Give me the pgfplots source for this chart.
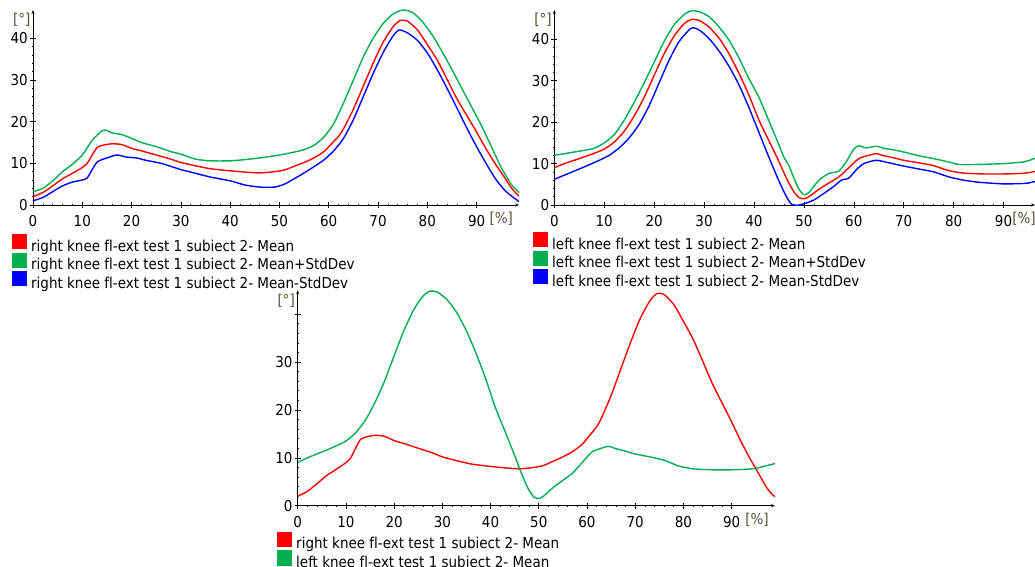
\documentclass[border=0pt]{standalone}
\usepackage{fontspec}
\setmainfont[Ligatures=NoCommon]{DejaVu Sans Condensed}
\usepackage{pgfplots}
\usepackage{pgfplotstable}
\pgfplotsset{compat=1.18}
\usetikzlibrary{arrows.meta}
\definecolor{cred}{RGB}{255,0,0}
\definecolor{cgreen}{RGB}{0,176,80}
\definecolor{cblue}{RGB}{0,0,255}
\definecolor{labcol}{RGB}{90,75,55}
\newcommand\chfont{\fontsize{15}{17}\selectfont}

% right knee
\pgfplotstableread{
x y
0 2.0
2 3.0
4 4.6
6 6.3
8 7.6
10 9.0
11 10.0
12 12.0
13 13.8
14 14.3
16 14.7
18 14.5
20 13.6
22 13.0
25 12.0
28 11.0
30 10.2
33 9.4
36 8.7
40 8.2
43 7.9
46 7.7
49 8.0
51 8.4
53 9.3
55 10.2
57 11.3
59 12.8
60 14.0
62 16.5
63 18.3
65 23.0
67 28.5
69 34.0
71 39.0
73 42.7
74.5 44.3
76 44.1
78 42.0
80 38.5
82 34.8
84 30.2
86 25.5
88 21.5
90 17.5
92 13.3
94 9.5
95 7.8
96 6.0
97 4.2
98 2.8
98.6 2.2
99 1.9
}\rmean
\pgfplotstableread{
x y
0 3.2
2 4.0
4 5.8
6 8.0
8 9.8
10 12.0
12 15.5
14 17.8
15 17.9
16 17.3
18 16.9
20 16.0
22 15.0
25 14.0
28 12.8
30 12.2
33 11.0
36 10.6
40 10.6
43 10.9
46 11.3
50 12.0
53 12.7
55 13.3
57 14.3
59 16.3
61 19.5
63 24.5
65 30.0
67 35.5
69 40.0
71 43.5
73 45.8
75 46.8
77 46.2
79 44.0
81 40.8
83 36.8
85 32.5
87 28.0
89 23.5
91 19.0
93 14.0
95 9.0
97 5.0
98.6 3.0
99 2.8
}\rplus
\pgfplotstableread{
x y
0 1.0
2 1.8
4 3.2
6 4.6
8 5.5
10 6.0
11 6.5
12 8.5
13 10.3
14 10.9
15 11.3
17 12.0
19 11.5
21 11.3
23 10.7
26 10.0
30 8.5
33 7.6
36 6.7
40 5.8
43 4.8
46 4.3
49 4.3
51 5.0
53 6.3
55 7.7
57 9.2
59 10.8
61 13.0
63 16.0
65 20.5
67 26.0
69 31.5
71 36.5
73 40.5
74.3 42.0
76 41.3
78 39.5
80 36.5
82 32.5
84 28.0
86 23.3
88 18.5
90 14.0
92 9.8
94 6.0
96 3.2
98.6 0.8
99 0.6
}\rminus
% left knee
\pgfplotstableread{
x y
0 9.0
2 10.0
5 11.2
8 12.5
10 13.5
12 15.2
14 17.8
16 21.5
18 26.0
20 31.3
22 36.5
24 40.8
26 43.8
27.5 44.8
29 44.6
31 43.0
33 40.3
35 36.5
37 31.8
39 26.5
41 20.5
43 15.5
45 10.5
46 7.8
47 5.3
48 3.2
49 1.8
50 1.5
51 2.0
53 3.8
55 5.3
57 6.8
59 9.0
61 11.2
63 12.0
64.5 12.4
66 11.9
68 11.4
70 10.8
73 10.2
76 9.5
79 8.3
82 7.7
86 7.5
90 7.5
93 7.6
95 7.8
97 8.3
99 8.8
}\lmean
\pgfplotstableread{
x y
0 12.0
3 12.6
6 13.2
8 13.7
10 15.0
12 17.0
14 20.5
16 24.8
18 29.5
20 34.5
22 39.5
24 43.5
26 46.0
27.5 46.9
29 46.7
31 45.5
33 43.0
35 39.8
37 35.5
39 30.5
41 26.0
43 20.3
45 14.5
46 11.5
47 9.5
48 6.5
49 3.8
50 2.5
51 3.0
53 6.0
55 7.6
57 8.2
58.5 10.5
60 13.5
61 14.3
62.5 13.8
64.5 14.2
66 13.7
68 13.3
70 12.8
73 11.9
76 11.2
79 10.4
81 9.8
85 9.8
90 10.0
94 10.4
95 10.7
97 11.6
99 12.2
}\lplus
\pgfplotstableread{
x y
0 6.2
3 7.7
6 9.2
9 10.8
11 12.0
13 13.8
15 16.2
17 19.5
19 24.0
21 29.5
23 35.0
25 39.5
27 42.3
27.8 42.8
29 42.3
31 40.2
33 37.2
35 33.5
37 29.0
39 23.5
41 17.5
43 11.5
45 5.8
46.5 2.0
47.5 0.2
48.5 -0.1
50 0.3
52 1.2
54 2.8
56 4.5
57.5 6.0
59 6.5
60.5 8.5
62 10.0
64.5 10.8
67 10.2
70 9.4
73 8.7
76 8.0
79 6.8
82 6.0
85 5.5
90 5.1
94 5.2
95 5.3
97 5.9
99 6.3
}\lminus

\pgfplotsset{kneestyle/.style={
  scale only axis, axis lines=left, clip mode=individual,
  axis line style={black, line width=0.7pt, -{Stealth[length=4pt,width=3pt]}},
  xmin=0, ymin=0,
  xtick={0,10,...,90}, ytick={0,10,...,40},
  minor x tick num=4, minor y tick num=4,
  tick align=center, major tick length=6pt, minor tick length=2pt,
  tick style={black, line width=0.6pt},
  ticklabel style={font=\chfont},
  xticklabel style={anchor=base, yshift=-18.5pt, inner sep=0pt},
  yticklabel style={anchor=east, xshift=-2pt, inner sep=0pt},
  /pgf/number format/assume math mode=true,
  legend cell align=left,
  legend image code/.code={\fill[##1] (0pt,-2.6pt) rectangle (13.5pt,11.4pt);},
  legend style={at={(axis description cs:0,0)}, anchor=north west,
    draw=none, fill=none, inner sep=0pt, outer sep=0pt,
    row sep=0pt, column sep=4pt, font=\chfont,
    nodes={inner sep=0pt}},
  every axis plot/.append style={line width=1.4pt, mark=none, smooth, tension=0.4},
}}

\begin{document}
\begin{tikzpicture}
\useasboundingbox (0pt,0pt) rectangle (1035pt,566pt);

% top left
\begin{axis}[kneestyle, at={(33pt,361pt)}, anchor=south west,
  width=486pt, height=195pt, xmax=98.6, ymax=46.8,
  legend style={xshift=-20.7pt, yshift=-29pt}]
\addplot[cred] table {\rmean};
\addplot[cgreen] table {\rplus};
\addplot[cblue] table {\rminus};
\legend{right knee fl-ext test 1 subiect 2- Mean,
        right knee fl-ext test 1 subiect 2- Mean+StdDev,
        right knee fl-ext test 1 subiect 2- Mean-StdDev}
\node[anchor=east, inner sep=0pt, text=labcol, font=\chfont, xshift=-2.5pt] at (rel axis cs:0,0.95) {[°]};
\node[anchor=base west, inner sep=0pt, text=labcol, font=\chfont, yshift=-18.5pt] at (axis cs:92.6,0) {[\%]};
\end{axis}

% top right
\begin{axis}[kneestyle, at={(554.3pt,361pt)}, anchor=south west,
  width=480.7pt, height=195pt, xmax=96.3, ymax=47.1,
  legend style={xshift=-21pt, yshift=-27pt}]
\addplot[cred] table {\lmean};
\addplot[cgreen] table {\lplus};
\addplot[cblue] table {\lminus};
\legend{left knee fl-ext test 1 subiect 2- Mean,
        left knee fl-ext test 1 subiect 2- Mean+StdDev,
        left knee fl-ext test 1 subiect 2- Mean-StdDev}
\node[anchor=east, inner sep=0pt, text=labcol, font=\chfont, xshift=-2.5pt] at (rel axis cs:0,0.95) {[°]};
\node[anchor=base west, inner sep=0pt, text=labcol, font=\chfont, yshift=-18.5pt] at (axis cs:91.7,0) {[\%]};
\end{axis}

% bottom
\begin{axis}[kneestyle, at={(297.7pt,60.3pt)}, anchor=south west,
  width=477.3pt, height=215.5pt, xmax=99, ymax=45,
  yticklabels={0,10,20,30,},
  legend style={xshift=-20.4pt, yshift=-26pt}]
\addplot[cred] table {\rmean};
\addplot[cgreen] table {\lmean};
\legend{right knee fl-ext test 1 subiect 2- Mean,
        left knee fl-ext test 1 subiect 2- Mean}
\node[anchor=east, inner sep=0pt, text=labcol, font=\chfont, xshift=-2.7pt] at (rel axis cs:0,0.952) {[°]};
\node[anchor=base west, inner sep=0pt, text=labcol, font=\chfont, yshift=-18.5pt] at (axis cs:92.8,0) {[\%]};
\end{axis}
\end{tikzpicture}
\end{document}
